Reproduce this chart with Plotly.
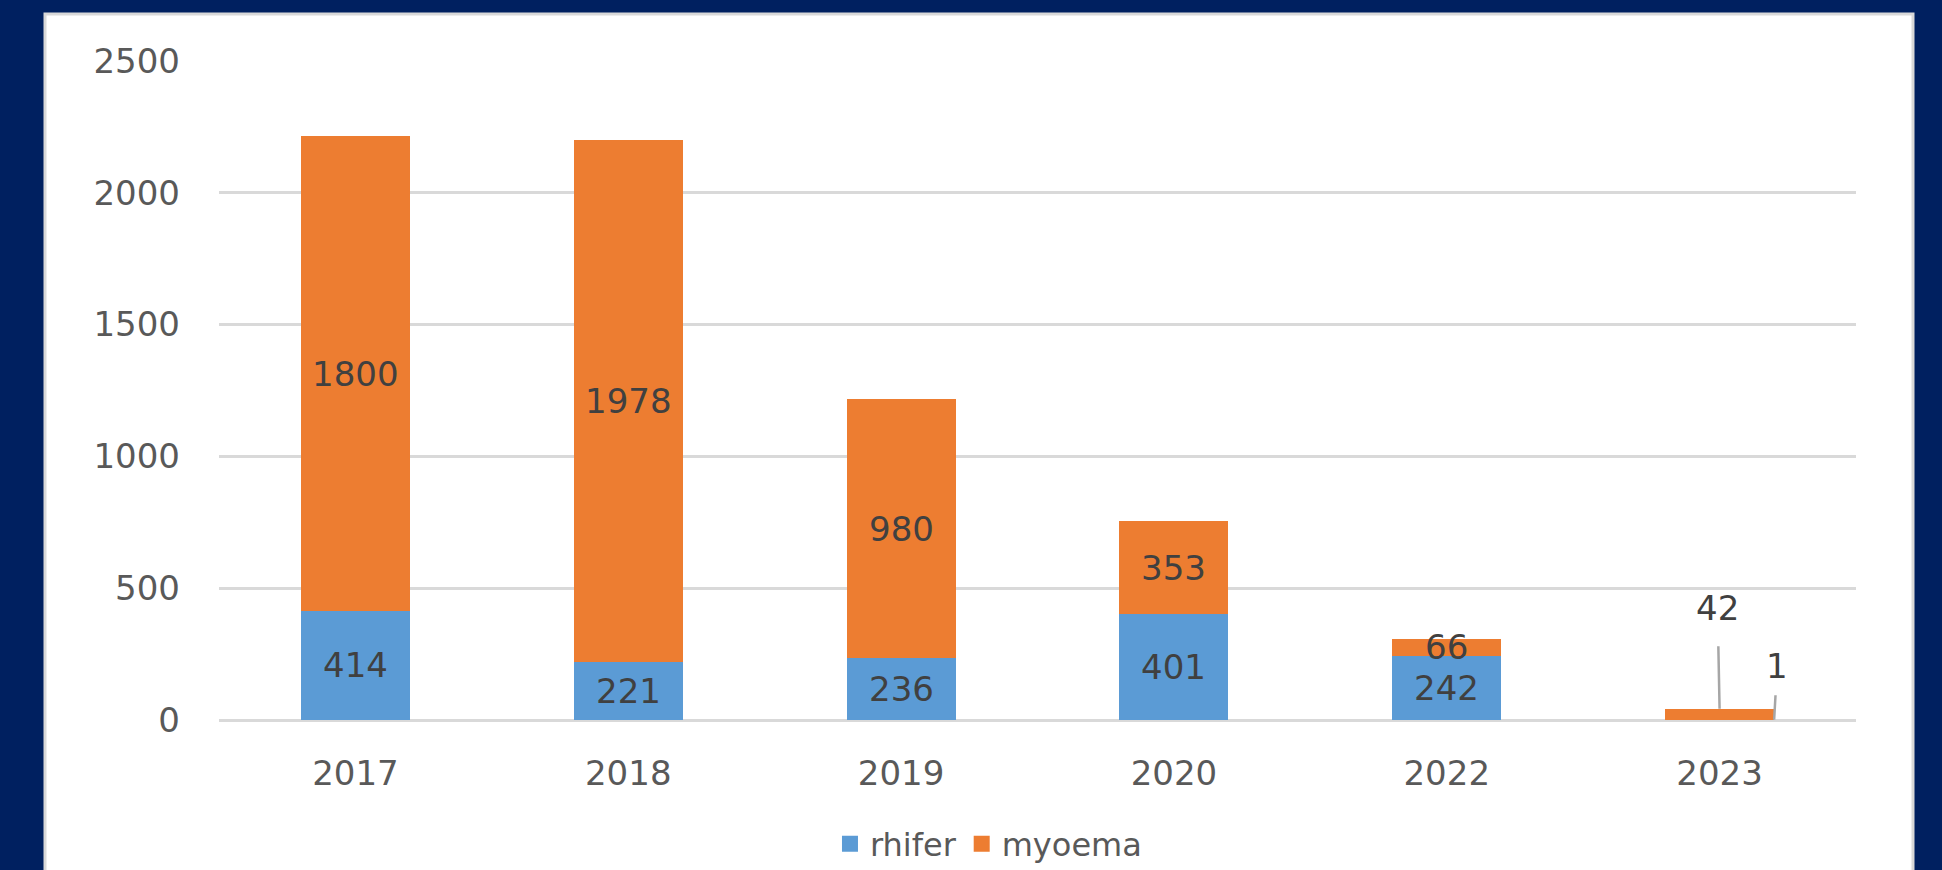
import plotly.graph_objects as go

years = ["2017", "2018", "2019", "2020", "2022", "2023"]
rhifer = [414, 221, 236, 401, 242, 1]
myoema = [1800, 1978, 980, 353, 66, 42]
y_ticks = [0, 500, 1000, 1500, 2000, 2500]

BLUE = "#5B9BD5"
ORANGE = "#ED7D31"
NAVY = "#002060"
GRID = "#D9D9D9"
TICK_COLOR = "#595959"
LABEL_COLOR = "#404040"
FONT = "DejaVu Sans"
FS = 34
LEG_FS = 32
BAR_W = 0.4

# labels drawn with a leader line: (series, year) -> (ax, ay, startstandoff, shift in bar widths)
callouts = {
    ("myoema", "2023"): (-2, -101, 17, 0.0),
    ("rhifer", "2023"): (3, -54, 8, 0.5),
}

fig = go.Figure()
for name, vals, col in (("rhifer", rhifer, BLUE), ("myoema", myoema, ORANGE)):
    fig.add_trace(go.Bar(name=name, x=years, y=vals, marker_color=col,
                         marker_line_width=0, width=BAR_W, showlegend=False))
# legend entries (square swatches)
for name, col in (("rhifer", BLUE), ("myoema", ORANGE)):
    fig.add_trace(go.Scatter(name=name, x=[None], y=[None], mode="markers",
                             marker=dict(symbol="square", size=20, color=col),
                             showlegend=True, hoverinfo="skip"))

annotations = []
for i, yr in enumerate(years):
    r, m = rhifer[i], myoema[i]
    for name, val, mid, top in (("rhifer", r, r / 2, r), ("myoema", m, r + m / 2, r + m)):
        key = (name, yr)
        if key in callouts:
            ax, ay, sso, shift = callouts[key]
            annotations.append(dict(
                x=i + shift * BAR_W, y=top, xref="x", yref="y", text=str(val),
                showarrow=True, arrowhead=0, arrowwidth=2.5, arrowcolor="#A6A6A6",
                ax=ax, ay=ay, startstandoff=sso, standoff=0,
                font=dict(family=FONT, size=FS, color=LABEL_COLOR)))
        else:
            annotations.append(dict(
                x=i, y=mid, xref="x", yref="y", text=str(val), showarrow=False,
                font=dict(family=FONT, size=FS, color=LABEL_COLOR)))

L, R, T, B = 219, 86, 60, 150
W, H = 1942, 870
pw, ph = W - L - R, H - T - B
panel = dict(type="rect", xref="paper", yref="paper", layer="below",
             x0=(45 - L) / pw, x1=(1913 - L) / pw,
             y0=(H - B - 900) / ph, y1=(H - B - 14) / ph,
             fillcolor="white", line=dict(color=GRID, width=3))

fig.update_layout(
    width=W, height=H, barmode="stack",
    paper_bgcolor=NAVY, plot_bgcolor="white",
    margin=dict(l=L, r=R, t=T, b=B),
    font=dict(family=FONT, size=FS, color=TICK_COLOR),
    shapes=[panel], annotations=annotations,
    showlegend=True,
    legend=dict(orientation="h", xref="container", yref="container",
                x=0.509, xanchor="center", y=0.03, yanchor="middle",
                traceorder="normal", itemsizing="trace",
                font=dict(family=FONT, size=LEG_FS, color=TICK_COLOR),
                bgcolor="rgba(0,0,0,0)", itemwidth=30),
    xaxis=dict(type="category", range=[-0.5, len(years) - 0.5],
               showgrid=False, showline=False, zeroline=False,
               ticks="", ticklabelstandoff=30,
               tickfont=dict(family=FONT, size=FS, color=TICK_COLOR)),
    yaxis=dict(range=[0, 2503], tickvals=y_ticks, showgrid=True, gridcolor=GRID,
               gridwidth=2.5, zeroline=True, zerolinecolor=GRID, zerolinewidth=2.5,
               showline=False, ticks="", ticklabelstandoff=38,
               tickfont=dict(family=FONT, size=FS, color=TICK_COLOR)),
)

fig.write_html("out.html", config={"displayModeBar": False},
               post_script="document.body.style.margin='0';document.body.style.padding='0';"
                           "document.body.style.overflow='hidden';")
